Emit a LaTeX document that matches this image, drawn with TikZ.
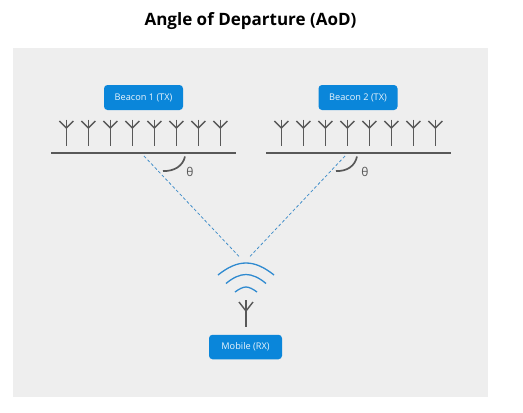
\documentclass[tikz,border=0pt]{standalone}
\usepackage{fontspec}
\setmainfont{Open Sans}
\definecolor{panel}{HTML}{EEEEEE}
\definecolor{boxblue}{HTML}{0A86DA}
\definecolor{wave}{HTML}{2F8AD0}
\definecolor{ink}{HTML}{585858}
\definecolor{dash}{HTML}{3E8CC8}
\tikzset{
  txbox/.style={fill=boxblue,rounded corners=3.5pt,minimum height=25pt,inner sep=0pt,text=white!92!boxblue,font=\fontsize{9.2}{11}\selectfont},
  ant/.style={draw=ink,line width=1.4pt},
  base/.style={draw=ink,line width=1.7pt},
  ray/.style={draw=dash,line width=0.75pt,dash pattern=on 3pt off 2.2pt},
  anglearc/.style={draw=ink,line width=1.7pt},
  wv/.style={draw=wave,line width=1.3pt},
  ttl/.style={font=\fontsize{17}{20}\selectfont\bfseries,text=black},
  thetalbl/.style={font=\fontsize{12}{14}\selectfont,text=ink}
}
\newcommand{\antenna}[3]{%
  \draw[ant] (#1,#2) -- (#1,#3);
  \draw[ant] (#1-7,#2+1.5) -- (#1,#2+8.5) -- (#1+7,#2+1.5);
}
\begin{document}
\begin{tikzpicture}[x=1pt,y=-1pt]
\useasboundingbox (0,0) rectangle (523,413);
\fill[white] (0,0) rectangle (523,413);
\fill[panel] (13,48) rectangle (488,397);
\node[ttl] (title) at (250.5,21) {Angle of Departure (AoD)};
\node[txbox,minimum width=79pt] (b1) at (143.5,97.5) {Beacon 1 (TX)};
\node[txbox,minimum width=79pt] (b2) at (358,97.5) {Beacon 2 (TX)};
\node[txbox,minimum width=73pt,minimum height=24.5pt] (m) at (245.5,347) {Mobile (RX)};
\foreach \i in {0,...,7}{
  \antenna{66.3+22*\i}{119.5}{146}
  \antenna{281.3+22*\i}{119.5}{146}
}
\coordinate (l1a) at (51,152.7); \coordinate (l1b) at (236,152.7);
\coordinate (l2a) at (266,152.7); \coordinate (l2b) at (451,152.7);
\draw[base] (l1a) -- (l1b);
\draw[base] (l2a) -- (l2b);
\coordinate (r1) at (144,156); \coordinate (r2) at (345,156);
\coordinate (mt1) at (240,257.5); \coordinate (mt2) at (249,257.5);
\draw[ray] (r1) -- (mt1);
\draw[ray] (r2) -- (mt2);
\draw[anglearc] (185,156.5) .. controls (183,166) and (174,171.5) .. (163,171);
\draw[anglearc] (357,156.5) .. controls (355,166) and (347,171.5) .. (336,171);
\node[thetalbl] (t1) at (190,172) {θ};
\node[thetalbl] (t2) at (365,172) {θ};
\draw[wv] (218,275) .. controls (228,267) and (237,263) .. (246,263) .. controls (255,263) and (264,267) .. (274,275);
\draw[wv] (226,283.5) .. controls (233,277.5) and (240,274.5) .. (246,274.5) .. controls (252,274.5) and (259,277.5) .. (266,283.5);
\draw[wv] (235,292) .. controls (239,289) and (243,287) .. (246,287) .. controls (249,287) and (253,289) .. (257,292);
\draw[ant] (246,300) -- (246,327);
\draw[ant] (239,302) -- (246,311) -- (253,302);
\end{tikzpicture}
\end{document}
